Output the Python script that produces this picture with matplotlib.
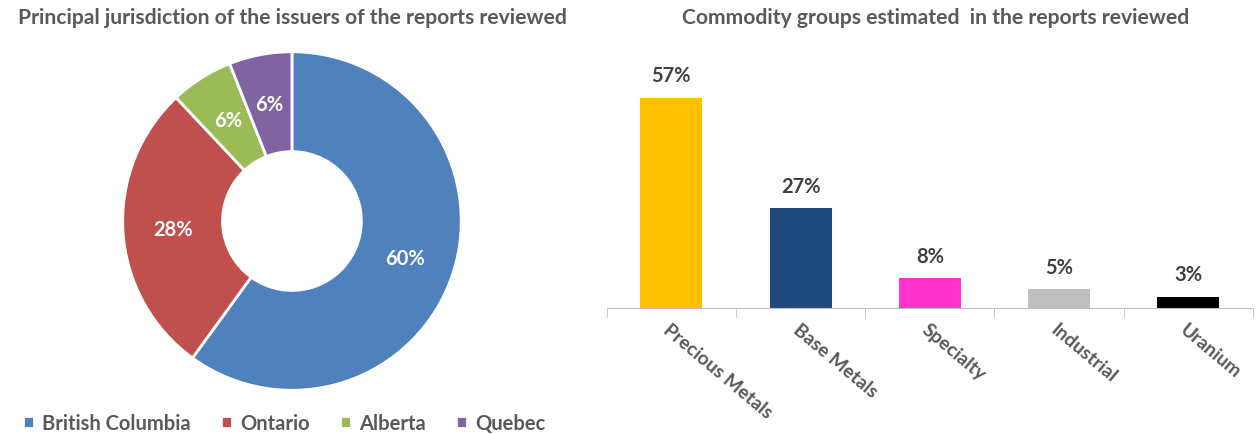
import numpy as np
import matplotlib
matplotlib.use("Agg")
import matplotlib.pyplot as plt

plt.rcParams['font.family'] = ['Lato', 'DejaVu Sans']

# jurisdiction donut
regions = ['British Columbia', 'Ontario', 'Alberta', 'Quebec']
region_share = [60, 28, 6, 6]
region_colors = ['#4F81BD', '#C0504D', '#9BBB59', '#8064A2']

# commodity bars
commodities = ['Precious Metals', 'Base Metals', 'Specialty', 'Industrial', 'Uranium']
commodity_share = [57, 27, 8, 5, 3]
commodity_colors = ['#FFC000', '#1F497D', '#FF33CC', '#BFBFBF', '#000000']

TXT = '#595959'

fig = plt.figure(figsize=(12.59, 4.35), dpi=100)

# ---- donut ----
ax1 = fig.add_axes([0.0961, 0.0966, 0.2716, 0.786])
wedges, _ = ax1.pie(region_share, colors=region_colors, startangle=90,
                    counterclock=False, radius=1.0,
                    wedgeprops=dict(width=0.59, edgecolor='white', linewidth=2))
ax1.set_aspect('equal')
ax1.set_xlim(-1.01, 1.01)
ax1.set_ylim(-1.01, 1.01)
r_lab = 0.705
ang = 90.0
for w, v in zip(wedges, region_share):
    mid = np.deg2rad(ang - v / 100 * 360 / 2)
    ang -= v / 100 * 360
    ax1.text(r_lab * np.cos(mid), r_lab * np.sin(mid), f'{v}%',
             ha='center', va='center', color='white', fontsize=14.5,
             fontweight='bold')
fig.text(0.232, 0.958, 'Principal jurisdiction of the issuers of the reports reviewed',
         ha='center', va='center', fontsize=15.2, fontweight='bold', color=TXT)

leg = fig.legend(wedges, regions, loc='center left', bbox_to_anchor=(0.004, 0.025),
                 ncol=4, frameon=False, fontsize=14.5, handlelength=0.55,
                 handleheight=0.55, handletextpad=0.4, columnspacing=1.5)
for t in leg.get_texts():
    t.set_color(TXT)
    t.set_fontweight('bold')

# ---- bars ----
ax2 = fig.add_axes([0.482, 0.290, 0.513, 0.55])
x = np.arange(len(commodities))
ax2.bar(x, commodity_share, width=0.48, color=commodity_colors, zorder=2)
for xi, v in zip(x, commodity_share):
    ax2.text(xi, v + 3.5, f'{v}%', ha='center', va='bottom', fontsize=14.5,
             fontweight='bold', color='#404040')
ax2.set_xlim(-0.5, len(commodities) - 0.5)
ax2.set_ylim(0, 65)
for s in ['top', 'right', 'left']:
    ax2.spines[s].set_visible(False)
ax2.spines['bottom'].set_color('#BFBFBF')
ax2.set_yticks([])
ax2.set_xticks(x)
ax2.set_xticklabels(commodities, rotation=-40, ha='left', rotation_mode='anchor',
                    fontsize=13.8, fontweight='bold', color=TXT)
ax2.tick_params(axis='x', which='major', length=0, pad=9)
ax2.set_xticks(np.arange(-0.5, len(commodities)), minor=True)
ax2.tick_params(axis='x', which='minor', length=7, color='#BFBFBF')
fig.text(0.743, 0.958, 'Commodity groups estimated  in the reports reviewed',
         ha='center', va='center', fontsize=15.2, fontweight='bold', color=TXT)

fig.savefig('out.png', dpi=100)
